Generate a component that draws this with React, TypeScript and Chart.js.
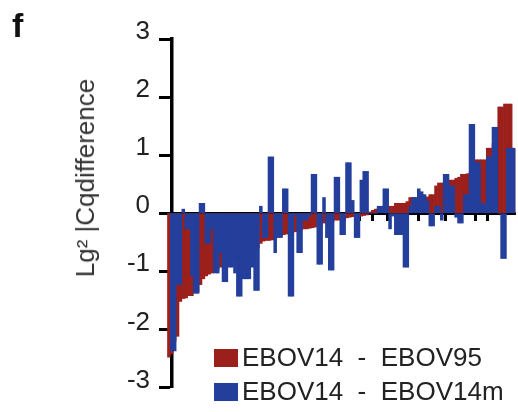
import React, { useEffect, useRef } from 'react';
import { Chart, registerables } from 'chart.js';

Chart.register(...registerables);

// Values (sorted by the red series)
const redValues: number[] = [
  -2.48, -2.42, -2.2, -2.12, -1.52, -1.47, -1.46, -1.42, -1.42, -1.36,
  -1.35, -1.23, -1.13, -1.08, -1.05, -1.03, -1.0, -0.96, -0.93, -0.9,
  -0.88, -0.85, -0.82, -0.8, -0.78, -0.76, -0.74, -0.72, -0.7, -0.68,
  -0.64, -0.6, -0.52, -0.48, -0.47, -0.47, -0.46, -0.44, -0.41, -0.4,
  -0.37, -0.36, -0.35, -0.33, -0.32, -0.3, -0.29, -0.27, -0.27, -0.26,
  -0.25, -0.24, -0.22, -0.2, -0.17, -0.16, -0.15, -0.14, -0.12, -0.12,
  -0.1, -0.09, -0.08, -0.07, -0.06, -0.05, -0.05, -0.05, -0.04, -0.03,
  0.02, 0.05, 0.07, 0.08, 0.08, 0.09, 0.1, 0.12, 0.12, 0.17,
  0.17, 0.17, 0.17, 0.2, 0.27, 0.27, 0.27, 0.28, 0.28, 0.28,
  0.28, 0.32, 0.32, 0.47, 0.52, 0.52, 0.53, 0.55, 0.57, 0.57,
  0.6, 0.62, 0.67, 0.67, 0.68, 0.7, 0.75, 0.92, 0.92, 0.92,
  0.92, 1.12, 1.12, 1.2, 1.3, 1.83, 1.83, 1.88, 1.88, 1.88,
  1.1,
];

const blueValues: number[] = [
  0, -2.37, -2.37, -1.23, -1.23, 0.07, -0.27, -0.27, -1.08, -1.38,
  -1.38, 0.17, 0.17, -0.52, -0.52, -0.27, -1.03, -1.03, -0.68, -1.18,
  -1.18, -0.93, -0.93, -1.03, -1.43, -1.43, -1.13, -1.13, -1.13, -0.93,
  -1.33, -1.33, 0.12, -0.42, -0.42, 0.97, 0.97, -0.68, -0.42, -0.42,
  0.42, 0.42, -1.43, -1.43, -0.04, -0.68, -0.68, -0.12, -0.12, -0.05,
  0.67, 0.67, -0.88, -0.88, 0.27, -0.42, -0.98, -0.98, 0.62, 0.62,
  -0.37, -0.37, 0.87, 0.87, 0.22, -0.42, -0.42, 0.57, 0.72, 0.72,
  0, 0, 0, 0.12, 0.12, 0.42, 0.42, -0.27, -0.05, -0.37,
  -0.37, -0.37, -0.93, -0.93, 0.12, 0.27, 0.27, 0.42, 0.37, 0.32,
  0.22, -0.22, -0.22, 0.12, 0.12, -0.12, 0.67, 0.67, 0.47, 0.47,
  -0.07, -0.17, -0.17, 0.32, 0.32, 1.53, 1.53, 0.87, 0.87, 0.17,
  0.17, 0.97, 0.97, 1.48, 1.48, 0, -0.78, -0.78, 1.12, 1.12,
  1.12,
];

const slotIndex: number[] = redValues.map((_, i) => i);

const yTicks: number[] = [-3, -2, -1, 0, 1, 2, 3];
const xTickSlots: number[] = [
  6.37, 11.46, 16.68, 21.81, 26.44, 31.57, 35.99, 41.08, 46.45, 50.84, 56.07, 61.19,
  66.42, 70.71, 75.94, 81.41, 86.74, 91.87, 96.15, 101.28, 106.61, 110.79, 116.37,
];

const seriesLabels: string[] = ['EBOV14  -  EBOV95', 'EBOV14  -  EBOV14m'];
const RED = '#9b1f1b';
const BLUE = '#243f9b';
const FONT = '"Liberation Sans", Arial, Helvetica, sans-serif';

export default function App() {
  const ref = useRef<HTMLCanvasElement | null>(null);

  useEffect(() => {
    if (!ref.current) return;
    const chart = new Chart(ref.current, {
      type: 'bar',
      data: {
        labels: slotIndex,
        datasets: [
          {
            label: seriesLabels[0],
            data: redValues,
            backgroundColor: RED,
            borderWidth: 0,
            grouped: false,
            barPercentage: 1,
            categoryPercentage: 1,
            clip: false,
            order: 1,
          } as any,
          {
            label: seriesLabels[1],
            data: blueValues,
            backgroundColor: BLUE,
            borderWidth: 0,
            grouped: false,
            barPercentage: 1,
            categoryPercentage: 1,
            clip: false,
            order: 0,
          } as any,
        ],
      },
      options: {
        responsive: false,
        animation: false,
        layout: { padding: { left: 0, top: 39, right: 3, bottom: 10 } },
        plugins: { legend: { display: false }, tooltip: { enabled: false } },
        scales: {
          x: {
            type: 'linear',
            position: { y: 0 } as any,
            min: 1.07,
            max: 120.5,
            offset: false,
            afterBuildTicks: (scale: any) => {
              scale.ticks = xTickSlots.map((v) => ({ value: v }));
            },
            ticks: { display: false },
            grid: {
              offset: false,
              drawOnChartArea: false,
              drawTicks: true,
              tickLength: 6,
              tickWidth: 3,
              tickColor: '#000',
            },
            border: { display: true, color: '#000', width: 3 },
          },
          y: {
            type: 'linear',
            min: -3,
            max: 3,
            afterBuildTicks: (scale: any) => {
              scale.ticks = yTicks.map((v) => ({ value: v }));
            },
            afterFit: (scale: any) => {
              scale.width = 172;
            },
            ticks: {
              font: { family: FONT, size: 26 },
              color: '#222',
              padding: 9,
              labelOffset: -7,
              callback: (v: any) => String(v),
            },
            grid: {
              drawOnChartArea: false,
              drawTicks: true,
              tickLength: 13,
              tickWidth: 3,
              tickColor: '#000',
            },
            border: { display: true, color: '#000', width: 3.5 },
          },
        },
      },
    });
    return () => chart.destroy();
  }, []);

  const textBase: React.CSSProperties = {
    position: 'absolute',
    fontFamily: FONT,
    whiteSpace: 'pre',
    color: '#222',
  };

  return (
    <div style={{ position: 'absolute', left: 0, top: 0, width: 518, height: 412, background: '#fff', overflow: 'hidden' }}>
      <canvas ref={ref} width={518} height={412} style={{ position: 'absolute', left: 0, top: 0, width: 518, height: 412 }} />
      <div style={{ ...textBase, left: 12, top: 8, fontSize: 34, lineHeight: '34px', fontWeight: 'bold', color: '#111' }}>f</div>
      <div
        style={{
          ...textBase,
          left: 85,
          top: 178,
          fontSize: 26,
          lineHeight: '26px',
          color: '#333',
          transform: 'translate(-50%, -50%) rotate(-90deg)',
        }}
      >
        Lg² |Cqdifference
      </div>
      <div style={{ position: 'absolute', left: 214, top: 349, width: 24, height: 18, background: RED }} />
      <div style={{ ...textBase, left: 242, top: 344, fontSize: 26, lineHeight: '26px' }}>{seriesLabels[0]}</div>
      <div style={{ position: 'absolute', left: 214, top: 383, width: 24, height: 18, background: BLUE }} />
      <div style={{ ...textBase, left: 242, top: 378, fontSize: 26, lineHeight: '26px' }}>{seriesLabels[1]}</div>
    </div>
  );
}
